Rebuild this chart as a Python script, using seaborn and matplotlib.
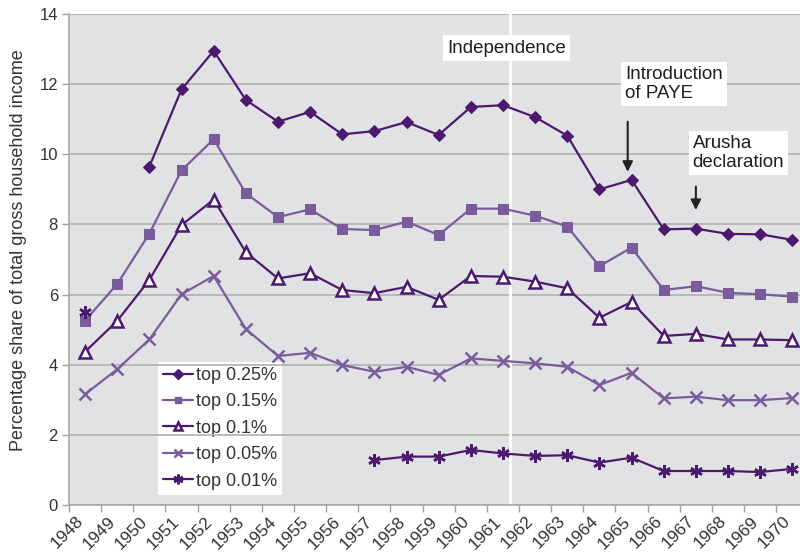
import numpy as np
import pandas as pd
import matplotlib
matplotlib.use('Agg')
import matplotlib.pyplot as plt
import matplotlib.transforms as mtransforms
import seaborn as sns

nan = np.nan
years = list(range(1948, 1971))
top_025 = [nan, nan, 9.65, 11.85, 12.95, 11.55, 10.93, 11.21, 10.57, 10.66, 10.92, 10.55,
           11.35, 11.40, 11.06, 10.53, 9.00, 9.27, 7.86, 7.88, 7.73, 7.72, 7.56]
top_015 = [5.26, 6.30, 7.74, 9.54, 10.43, 8.89, 8.21, 8.43, 7.87, 7.84, 8.08, 7.70,
           8.45, 8.45, 8.25, 7.94, 6.81, 7.34, 6.13, 6.24, 6.05, 6.01, 5.94]
top_010 = [4.37, 5.25, 6.42, 7.98, 8.71, 7.21, 6.46, 6.61, 6.13, 6.04, 6.22, 5.85,
           6.53, 6.51, 6.37, 6.18, 5.34, 5.79, 4.82, 4.88, 4.72, 4.72, 4.70]
top_005 = [3.16, 3.87, 4.72, 6.01, 6.53, 5.02, 4.25, 4.34, 3.99, 3.80, 3.94, 3.71,
           4.18, 4.11, 4.04, 3.94, 3.42, 3.77, 3.04, 3.09, 2.99, 2.99, 3.05]
top_001 = [5.49, nan, nan, nan, nan, nan, nan, nan, nan, 1.28, 1.38, 1.38,
           1.57, 1.47, 1.40, 1.42, 1.21, 1.35, 0.97, 0.97, 0.97, 0.94, 1.03]

labels = ['top 0.25%', 'top 0.15%', 'top 0.1%', 'top 0.05%', 'top 0.01%']
series = [top_025, top_015, top_010, top_005, top_001]

dark = '#4b1a6e'
light = '#7a5c9c'
text_col = '#333333'

sns.set_theme(style='white')
plt.rcParams['font.family'] = ['Liberation Sans', 'DejaVu Sans']

fig = plt.figure(figsize=(8, 5.56), dpi=100)
ax = fig.add_axes([0.08625, 0.0917, 0.91375, 0.8831])
ax.set_facecolor('#e1e2e4')

# points sit in the middle of each year slot
x = np.array(years) + 0.5

styles = [
    dict(color=dark, marker='D', markersize=6.5, markerfacecolor=dark, markeredgecolor=dark),
    dict(color=light, marker='s', markersize=6.5, markerfacecolor=light, markeredgecolor=light),
    dict(color=dark, marker='^', markersize=8, markerfacecolor='white', markeredgecolor=dark,
         markeredgewidth=1.8),
    dict(color=light, marker='x', markersize=8, markeredgecolor=light, markeredgewidth=1.8),
    dict(color=dark, marker=(6, 2, 0), markersize=9, markeredgecolor=dark, markeredgewidth=1.8),
]
leg_sizes = [5, 5, 6, 6, 7]

handles = []
for vals, lab, st, ms in zip(series, labels, styles, leg_sizes):
    vals = np.array(vals, dtype=float)
    # split into runs so gaps are not bridged
    isn = np.isnan(vals)
    runs = []
    start = None
    for i, miss in enumerate(isn):
        if not miss and start is None:
            start = i
        if miss and start is not None:
            runs.append((start, i))
            start = None
    if start is not None:
        runs.append((start, len(vals)))
    for a, b in runs:
        sns.lineplot(x=x[a:b], y=vals[a:b], ax=ax, linewidth=1.6, zorder=3, **st)
    hst = dict(st)
    hst['markersize'] = ms
    handles.append(plt.Line2D([], [], linewidth=1.6, label=lab, **hst))

# independence line
ax.axvline(1961.72, color='white', lw=2, zorder=1)

ax.set_xlim(1948, 1970.74)
ax.set_ylim(0, 14)
# tick marks on year boundaries, labels centred on each year slot
ax.set_xticks(years)
ax.set_xticklabels([])
ax.set_xticks(x, minor=True)
ax.set_xticklabels([str(y) for y in years], minor=True, rotation=45, ha='right',
                   va='center', rotation_mode='anchor', fontsize=12.5, color=text_col)
ax.tick_params(axis='x', which='minor', length=0, pad=10)
shift = mtransforms.ScaledTranslation(-4 / 100, 0, fig.dpi_scale_trans)
for lbl in ax.get_xticklabels(minor=True):
    lbl.set_transform(lbl.get_transform() + shift)
ax.set_yticks(range(0, 15, 2))
ax.set_yticklabels([str(v) for v in range(0, 15, 2)], fontsize=12, color=text_col)
ax.tick_params(axis='both', which='major', direction='out', length=5, width=1,
               color='#a0a0a0', pad=3, bottom=True, left=True)
ax.yaxis.grid(True, color='#b0b0b0', lw=1.2)
ax.xaxis.grid(False)
ax.set_axisbelow(True)
for s in ['top', 'right']:
    ax.spines[s].set_visible(False)
for s in ['left', 'bottom']:
    ax.spines[s].set_color('#a8a8a8')
    ax.spines[s].set_linewidth(1.2)

ax.set_ylabel('Percentage share of total gross household income', fontsize=13,
              color=text_col)
ax.yaxis.set_label_coords(-0.057, 0.519)

box = dict(facecolor='white', edgecolor='none', pad=3)
ax.text(1961.62, 13.03, 'Independence', ha='center', va='center', fontsize=13.5,
        color='#1e1e1e', bbox=box, zorder=4)
ax.text(1965.3, 12.0, 'Introduction\nof PAYE', ha='left', va='center', fontsize=13.5,
        color='#1e1e1e', bbox=box, linespacing=1.15, zorder=4)
ax.text(1967.4, 10.04, 'Arusha\ndeclaration', ha='left', va='center', fontsize=13.5,
        color='#1e1e1e', bbox=box, linespacing=1.15, zorder=4)

arrow = dict(arrowstyle='-|>', color='#222222', lw=1.5, mutation_scale=15,
             shrinkA=0, shrinkB=0)
ax.annotate('', xy=(1965.38, 9.50), xytext=(1965.38, 10.93), arrowprops=arrow)
ax.annotate('', xy=(1967.5, 8.41), xytext=(1967.5, 9.08), arrowprops=arrow)

leg = ax.legend(handles=handles, loc='lower left', bbox_to_anchor=(0.1218, 0.0204),
                frameon=True, fancybox=False, facecolor='white', edgecolor='none',
                framealpha=1, fontsize=13, handlelength=1.65, handletextpad=0.15,
                labelspacing=0.52, borderpad=0.3, borderaxespad=0)
leg.set_zorder(0.4)
for t in leg.get_texts():
    t.set_color(text_col)

fig.savefig('out.png', dpi=100, facecolor='white')
